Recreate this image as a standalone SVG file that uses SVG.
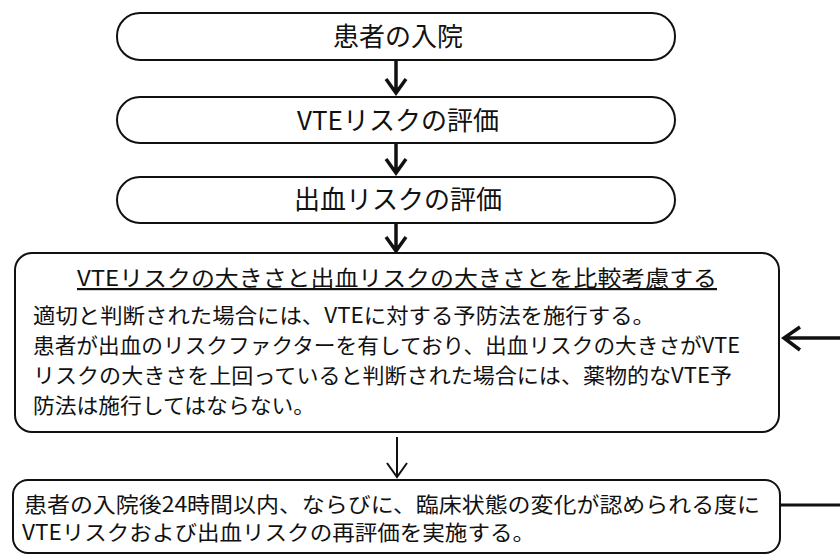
<svg xmlns="http://www.w3.org/2000/svg" width="840" height="555" viewBox="0 0 840 555">
<defs>
<style>
.box{fill:#fff;stroke:#111;stroke-width:2}
.lbl{font-family:"Noto Sans CJK JP","Noto Sans CJK SC",sans-serif;fill:#111}
.big{font-size:26px;text-anchor:middle}
.body{font-size:21px}
.title{font-size:22px;text-decoration:underline}
.arr{fill:none;stroke:#111;stroke-width:3.5;stroke-linecap:butt;stroke-linejoin:miter}
.thin{stroke-width:2}
</style>
</defs>
<rect width="840" height="555" fill="#fff"/>
<g id="node-admission">
<rect class="box" x="117" y="13" width="558" height="47" rx="23" ry="23"/>
<text class="lbl big" x="398" y="46">患者の入院</text>
</g>
<g id="node-vte-eval">
<rect class="box" x="117" y="97" width="558" height="46" rx="23" ry="23"/>
<text class="lbl big" x="398" y="130">VTEリスクの評価</text>
</g>
<g id="node-bleed-eval">
<rect class="box" x="117" y="177" width="558" height="46" rx="23" ry="23"/>
<text class="lbl big" x="398" y="209">出血リスクの評価</text>
</g>
<g id="node-compare">
<rect class="box" x="15" y="253" width="764" height="179" rx="17" ry="17"/>
<text class="lbl title" x="77" y="286" textLength="640" lengthAdjust="spacingAndGlyphs">VTEリスクの大きさと出血リスクの大きさとを比較考慮する</text>
<text class="lbl body" x="33" y="323" textLength="622" lengthAdjust="spacingAndGlyphs">適切と判断された場合には、VTEに対する予防法を施行する。</text>
<text class="lbl body" x="33" y="353" textLength="707" lengthAdjust="spacingAndGlyphs">患者が出血のリスクファクターを有しており、出血リスクの大きさがVTE</text>
<text class="lbl body" x="33" y="383" textLength="699" lengthAdjust="spacingAndGlyphs">リスクの大きさを上回っていると判断された場合には、薬物的なVTE予</text>
<text class="lbl body" x="33" y="413" textLength="282" lengthAdjust="spacingAndGlyphs">防法は施行してはならない。</text>
</g>
<g id="node-reassess">
<rect class="box" x="13" y="480" width="767" height="73" rx="15" ry="15"/>
<text class="lbl body" x="24" y="512" textLength="736" lengthAdjust="spacingAndGlyphs">患者の入院後24時間以内、ならびに、臨床状態の変化が認められる度に</text>
<text class="lbl body" x="22" y="540" textLength="513" lengthAdjust="spacingAndGlyphs">VTEリスクおよび出血リスクの再評価を実施する。</text>
</g>
<g id="connectors">
<path class="arr" d="M396 61 V93 M386 79 L396 93 L406 79"/>
<path class="arr" d="M396 144 V173 M386 159 L396 173 L406 159"/>
<path class="arr" d="M396 224 V251 M386 237 L396 251 L406 237"/>
<path class="arr thin" d="M397 437 V477 M387 463 L397 477 L407 463"/>
<path class="arr" d="M840 338 H784 M800 327 L784 338 L800 350"/>
<path class="arr" style="stroke-width:3" d="M781 505 H840"/>
</g>
</svg>
